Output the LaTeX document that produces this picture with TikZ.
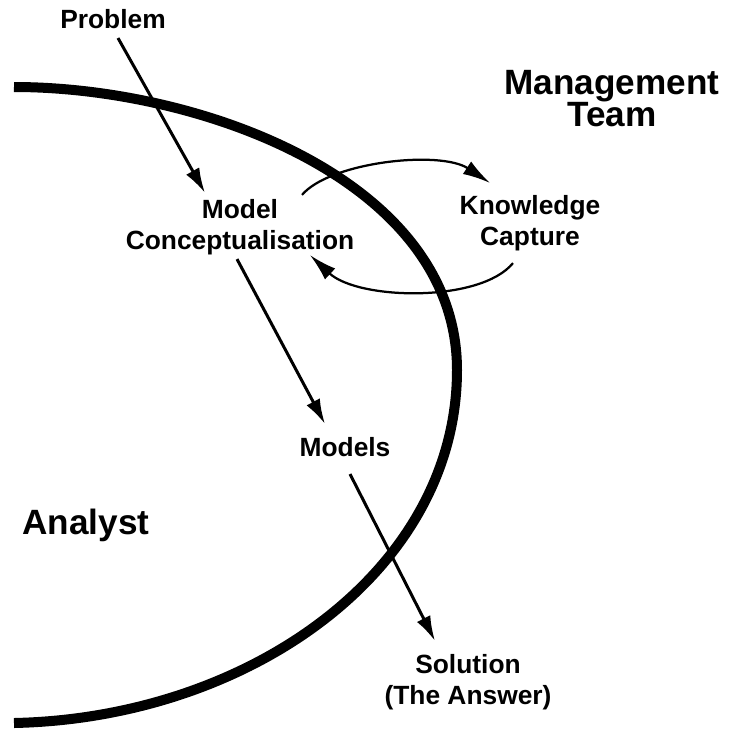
\documentclass[tikz,border=0pt]{standalone}
\usepackage{fontspec}
\setmainfont{Liberation Sans}
\usetikzlibrary{arrows.meta, positioning, calc}

\begin{document}
\begin{tikzpicture}[x=0.02cm, y=-0.02cm,
        txt/.style={font=\fontsize{15}{17.6}\selectfont\bfseries, inner sep=0pt, align=center},
        bigtxt/.style={font=\fontsize{20}{18.2}\selectfont\bfseries, inner sep=0pt, align=center},
        flow/.style={line width=0.06cm, -{Latex[length=5mm, width=3mm]}},
        cyclearrow/.style={line width=0.045cm, -{Latex[length=5.5mm, width=3mm]}},
        boundary/.style={line width=0.2cm}]
        \useasboundingbox (0,0) rectangle (747,731);

        % Analyst / management boundary
        \draw[boundary] (14,87) .. controls (200,87) and (457,180) .. (457,370)
            .. controls (457,570) and (250,718) .. (14,723);

        % Labels
        \node[txt] (problem) at (113,19) {Problem};
        \node[bigtxt] (mgmt) at (612,99) {Management\\Team};
        \node[txt] (concept) at (240,227) {Model\\Conceptualisation};
        \node[txt] (know) at (530,223) {Knowledge\\Capture};
        \node[txt] (models) at (345,447) {Models};
        \node[txt] (solution) at (468,682) {Solution\\(The Answer)};
        \node[bigtxt] (analyst) at (86,525) {Analyst};

        % Modelling flow
        \draw[flow] ([shift={(5,9)}]problem.south) -- ([shift={(-35,-6)}]concept.north);
        \draw[flow] ([shift={(-3,4)}]concept.south) -- ([shift={(-20,-13)}]models.north);
        \draw[flow] ([shift={(5,17)}]models.south) -- ([shift={(-33,-13)}]solution.north);

        % Knowledge capture cycle
        \draw[cyclearrow] ([shift={(62,-4)}]concept.north)
            .. controls +(28,-33) and +(-50,-33) .. ([shift={(-40,-12)}]know.north);
        \draw[cyclearrow] ([shift={(-17,12)}]know.south)
            .. controls +(-33,40) and +(48,45) .. ([shift={(70,0)}]concept.south);
    \end{tikzpicture}
\end{document}
